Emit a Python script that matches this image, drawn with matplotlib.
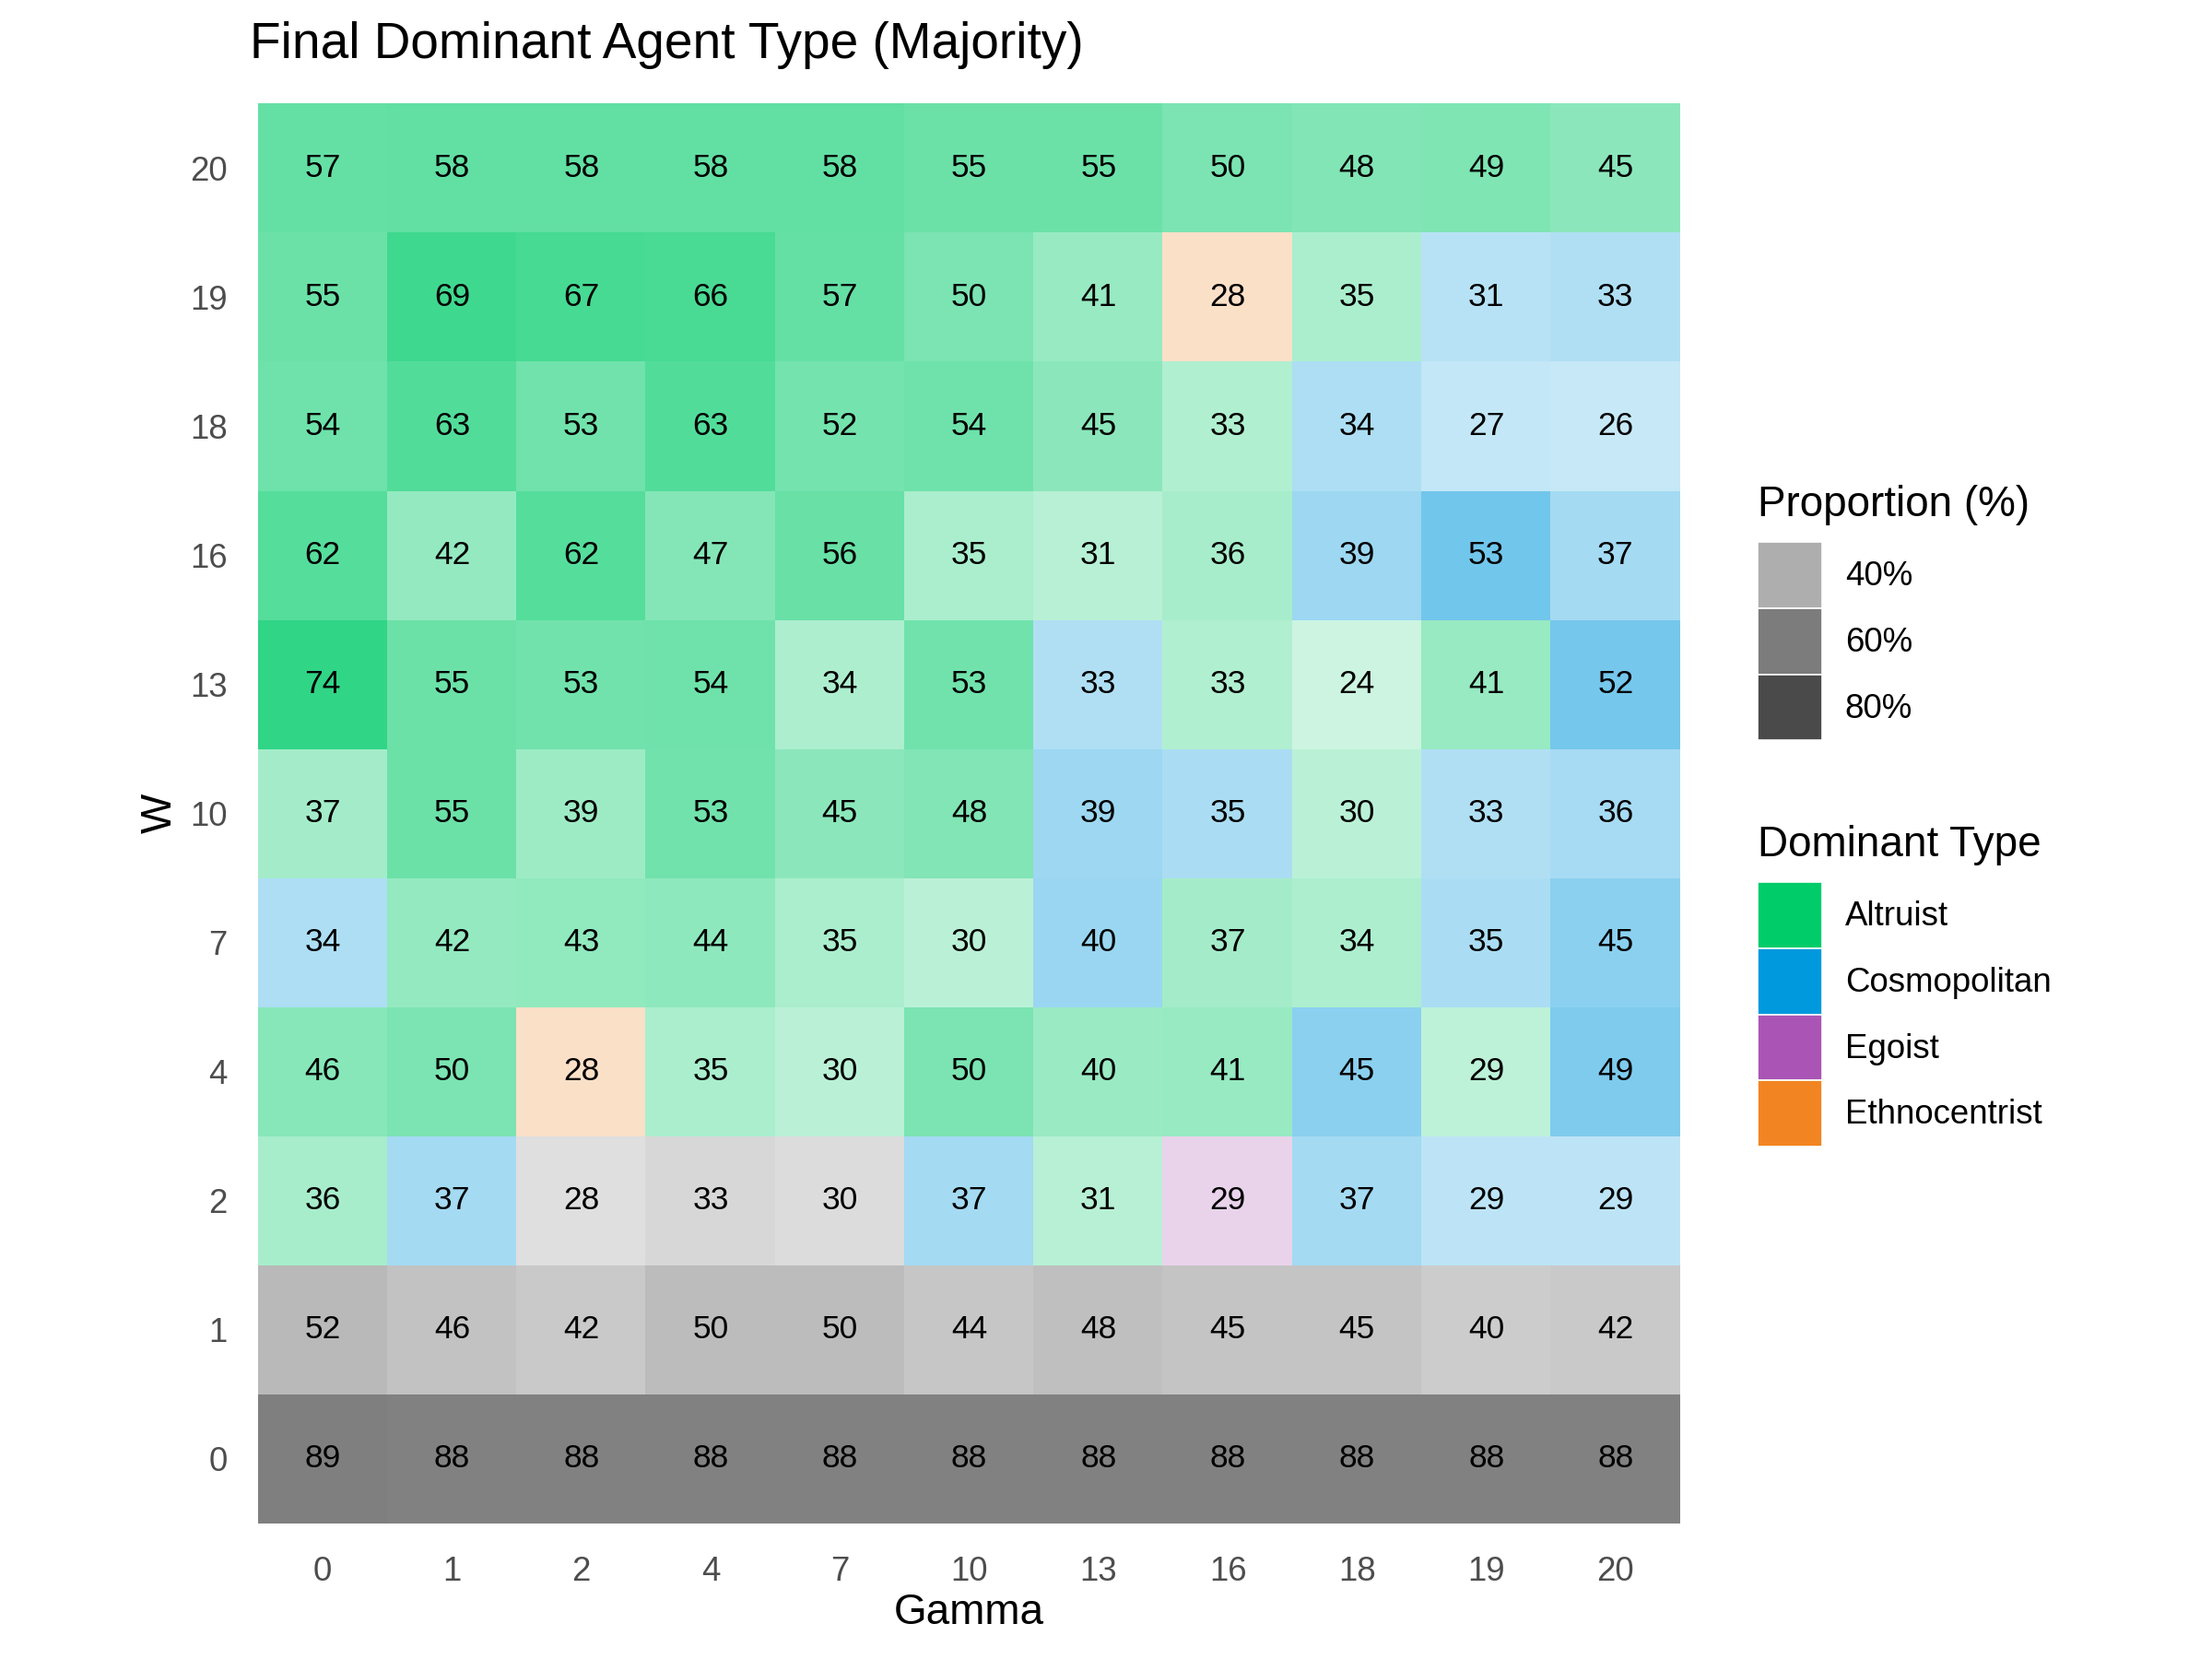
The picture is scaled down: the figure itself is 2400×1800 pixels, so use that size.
import numpy as np
import matplotlib
matplotlib.use("Agg")
import matplotlib.pyplot as plt
from matplotlib.colors import to_rgb
from matplotlib.patches import Patch

plt.rcParams['font.family'] = ['Liberation Sans', 'DejaVu Sans']

# axis categories
gamma = [0, 1, 2, 4, 7, 10, 13, 16, 18, 19, 20]
w_vals = [0, 1, 2, 4, 7, 10, 13, 16, 18, 19, 20]

# proportion (%) of the dominant type, rows = W (bottom to top), cols = Gamma
prop = [
    [89, 88, 88, 88, 88, 88, 88, 88, 88, 88, 88],  # W=0
    [52, 46, 42, 50, 50, 44, 48, 45, 45, 40, 42],  # W=1
    [36, 37, 28, 33, 30, 37, 31, 29, 37, 29, 29],  # W=2
    [46, 50, 28, 35, 30, 50, 40, 41, 45, 29, 49],  # W=4
    [34, 42, 43, 44, 35, 30, 40, 37, 34, 35, 45],  # W=7
    [37, 55, 39, 53, 45, 48, 39, 35, 30, 33, 36],  # W=10
    [74, 55, 53, 54, 34, 53, 33, 33, 24, 41, 52],  # W=13
    [62, 42, 62, 47, 56, 35, 31, 36, 39, 53, 37],  # W=16
    [54, 63, 53, 63, 52, 54, 45, 33, 34, 27, 26],  # W=18
    [55, 69, 67, 66, 57, 50, 41, 28, 35, 31, 33],  # W=19
    [57, 58, 58, 58, 58, 55, 55, 50, 48, 49, 45],  # W=20
]

# dominant type codes: A=Altruist, C=Cosmopolitan, G=Egoist, E=Ethnocentrist, N=none
dominant = [
    "NNNNNNNNNNN",  # W=0
    "NNNNNNNNNNN",  # W=1
    "ACNNNCAGCCC",  # W=2
    "AAEAAAAACAC",  # W=4
    "CAAAAACAACC",  # W=7
    "AAAAAACCACC",  # W=10
    "AAAAAACAAAC",  # W=13
    "AAAAAAAACCC",  # W=16
    "AAAAAAAACCC",  # W=18
    "AAAAAAAEACC",  # W=19
    "AAAAAAAAAAA",  # W=20
]

type_names = ["Altruist", "Cosmopolitan", "Egoist", "Ethnocentrist"]
type_codes = ["A", "C", "G", "E"]
type_colors = ["#00CC6A", "#0099DD", "#AA55B5", "#F28522"]
na_color = "#7F7F7F"    # grey50
key_grey = "#333333"    # grey20, used for the alpha legend keys

legend_pcts = [40, 60, 80]

prop = np.array(prop, dtype=float)
pmin, pmax = prop.min(), prop.max()


def alpha_of(p):
    # like scale_alpha(range = c(0.2, 1))
    return 0.2 + 0.8 * (p - pmin) / (pmax - pmin)


code_to_color = dict(zip(type_codes, type_colors))
code_to_color["N"] = na_color

nr, nc = prop.shape
rgba = np.zeros((nr, nc, 4))
for i in range(nr):
    for j in range(nc):
        rgba[i, j, :3] = to_rgb(code_to_color[dominant[i][j]])
        rgba[i, j, 3] = alpha_of(prop[i, j])

fig = plt.figure(figsize=(8, 6), dpi=300)
ax = fig.add_axes([0.1167, 0.0817, 0.6429, 0.8561])
ax.imshow(rgba, origin="lower", aspect="auto", interpolation="nearest",
          extent=(-0.5, nc - 0.5, -0.5, nr - 0.5))

for i in range(nr):
    for j in range(nc):
        ax.text(j, i, f"{int(prop[i, j])}", ha="center", va="center",
                fontsize=8.5, color="black")

ax.set_xticks(range(nc))
ax.set_xticklabels([str(g) for g in gamma])
ax.set_yticks(range(nr))
ax.set_yticklabels([str(w) for w in w_vals])
ax.tick_params(length=0, labelsize=8.8, labelcolor="#4D4D4D")
ax.tick_params(axis="x", pad=8.5)
ax.tick_params(axis="y", pad=8)
for s in ax.spines.values():
    s.set_visible(False)
ax.set_xlabel("Gamma", fontsize=11, labelpad=1)
ax.set_ylabel("W", fontsize=11, labelpad=2.5)

fig.text(0.1129, 0.965, "Final Dominant Agent Type (Majority)",
         fontsize=13.2, ha="left", va="baseline")

leg_kw = dict(loc="upper left", frameon=False, fontsize=8.8, title_fontsize=11,
              alignment="left", handlelength=1.92, handleheight=2.63,
              labelspacing=0, handletextpad=0.66, borderpad=0, borderaxespad=0)

# alpha legend
alpha_handles = [Patch(facecolor=(0.2, 0.2, 0.2, alpha_of(p)), edgecolor="white",
                       linewidth=0.4) for p in legend_pcts]
leg1 = fig.legend(alpha_handles, [f"{p}%" for p in legend_pcts],
                  title="Proportion (%)", bbox_to_anchor=(0.7946, 0.708), **leg_kw)

# type legend
type_handles = [Patch(facecolor=c, edgecolor="white", linewidth=0.4) for c in type_colors]
leg2 = fig.legend(type_handles, type_names, title="Dominant Type",
                  bbox_to_anchor=(0.7946, 0.503), **leg_kw)

# gap between legend title and keys (labelspacing is 0 so keys touch)
for leg in (leg1, leg2):
    leg._legend_box.sep = 4.5

fig.savefig("out.png", dpi=300, facecolor="white")
